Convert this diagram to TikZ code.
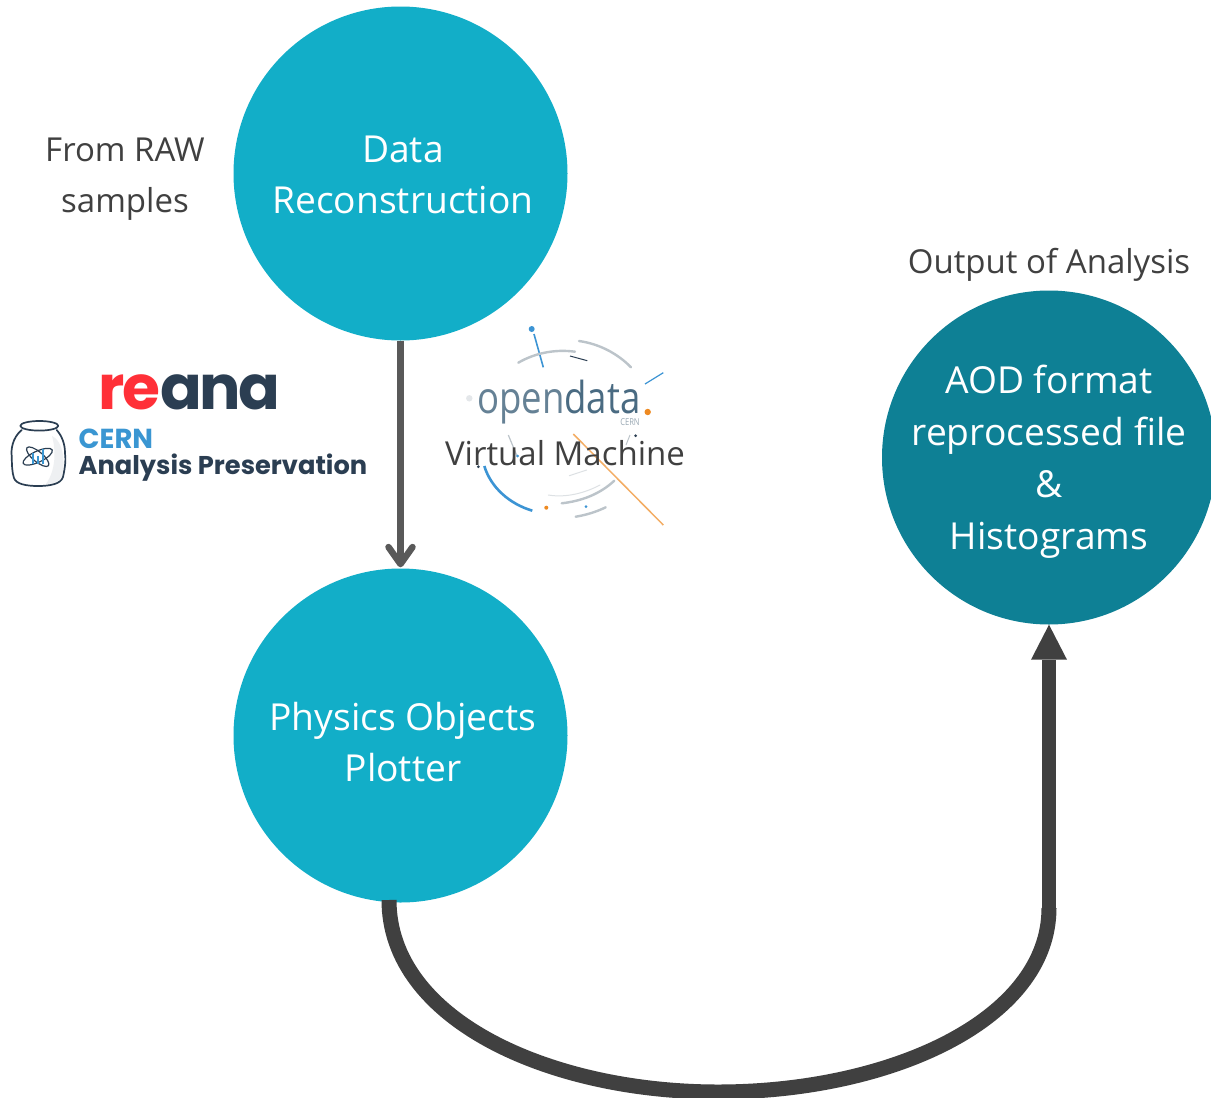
\documentclass[tikz,border=0pt]{standalone}
\usepackage{fontspec}
\setmainfont{Open Sans}
\newfontfamily\logofont{Poppins}
\usetikzlibrary{arrows.meta}
\definecolor{teal1}{HTML}{12AEC8}
\definecolor{teal2}{HTML}{0E8095}
\definecolor{inktext}{HTML}{404040}
\definecolor{arrowgrey}{HTML}{595959}
\definecolor{arrowdark}{HTML}{404040}
\definecolor{reanared}{HTML}{FF3038}
\definecolor{navy}{HTML}{2B3E52}
\definecolor{capblue}{HTML}{3A96D2}
\definecolor{odslate}{HTML}{4A6B82}
\definecolor{odgrey}{HTML}{BCC4CA}
\definecolor{odblue}{HTML}{3C94D4}
\definecolor{odorange}{HTML}{EE8A22}
\tikzset{
  x=1pt,y=-1pt,
  bubble/.style={circle,draw=none,inner sep=0pt,minimum size=334pt},
  inbubble/.style={text=white,align=center,inner sep=0pt,font=\fontsize{37.2}{51}\selectfont},
  sidetext/.style={text=inktext,align=center,inner sep=0pt,font=\fontsize{33}{51}\selectfont},
  odarc/.style={draw=odgrey,line width=2.4pt,line cap=round},
  odthin/.style={draw=odgrey!50,line width=1pt,line cap=round},
  jar/.style={draw=navy,line width=1.7pt,line cap=round,line join=round},
}
\begin{document}
\begin{tikzpicture}
\path[use as bounding box,clip] (0,0) rectangle (1211,1098);
\fill[white] (0,0) rectangle (1211,1098);

% open data logo
\fill[odblue] (531.7,329) circle (3);
\draw[odblue,line width=1.6pt] (534,334) -- (543.3,367.3);
\draw[odarc] (518.3,362.7) .. controls (535,353) and (555,349) .. (575,351.7);
\draw[navy,line width=1pt] (570,356) -- (587.3,360.7);
\draw[odarc] (579,341) .. controls (600,344) and (618,354) .. (631,367.3);
\draw[odblue,line width=1.2pt] (645,384) -- (663.3,372.7);
\fill[odorange] (647.7,412) circle (3.2);
\fill[odgrey!40] (469.3,398.3) circle (3.2);
\draw[odorange!70!white,line width=1.5pt] (573.3,434) -- (663.3,525);
\draw[odblue,line width=2.6pt] (484.3,466) .. controls (491,488) and (510,504) .. (532.3,510.7);
\fill[odorange] (546.3,507.7) circle (2);
\draw[odarc] (561.7,503.3) .. controls (582,501) and (600,494) .. (614.3,480.7);
\fill[odblue] (586,506.7) circle (1.5);
\draw[odarc] (575.7,516.7) .. controls (586,515) and (596,512) .. (605.7,507.3);
\draw[odthin] (548.3,495) .. controls (566,498) and (585,493) .. (600,485);
\draw[odgrey,line width=1.2pt] (508.3,435) -- (517.3,456.7);
\draw[odthin] (569.3,475.7) -- (586.7,470);
\draw[odgrey,line width=1pt] (630,435) -- (626,445);
\fill[navy] (635.7,435.7) circle (1.5);
\fill[navy] (478.3,466.7) circle (1.5);
\fill[odblue] (517.7,456) circle (1.5);
\node[inner sep=0pt,anchor=base west] (odword) at (477,413)
  {\scalebox{.83}[1]{\fontsize{44}{44}\selectfont\color{odslate!85}open\color{odslate}data}};
\node[inner sep=0pt,text=odgrey!70!odslate] (odcern) at (630,422.5)
  {\scalebox{.8}[1]{\fontsize{9.5}{10}\selectfont CERN}};

% circles
\node[bubble,fill=teal1] (recon) at (400.5,173.5) {};
\node[bubble,fill=teal1] (phys) at (400.5,735.5) {};
\node[bubble,fill=teal2] (aod) at (1049,457.5) {};

\node[inbubble] (recontxt) at (403,175) {Data\\Reconstruction};
\node[inbubble] (physt) at (403,742.5) {Physics Objects\\Plotter};
\node[inbubble,font=\fontsize{37.2}{52}\selectfont] (aodtxt) at (1049,461.5) {AOD format\\reprocessed file\\\&\\Histograms};

\node[sidetext] (raw) at (125,179.5) {From RAW\\samples};
\node[sidetext] (output) at (1049,265) {Output of Analysis};
\node[sidetext,font=\fontsize{33}{36}\selectfont] (vm) at (565,453) {Virtual Machine};

% connectors
\draw[arrowgrey,line width=6.5pt,-{Straight Barb[round,length=17pt,width=24pt,line width=6.5pt]},shorten >=1pt]
  (recon.south) -- (phys.north);
\coordinate (curvestart) at (389,900);
\coordinate (curvebottom) at (718,1092);
\coordinate (curveend) at (1049,908);
\draw[arrowdark,line width=15pt]
  (curvestart) .. controls (389,1020) and (550,1092) .. (curvebottom)
  .. controls (890,1092) and (1049,1020) .. (curveend);
\draw[arrowdark,line width=14pt,-{Triangle[length=35pt,width=36pt,line width=0pt]}]
  (curveend) -- (aod.south);

% reana logo
\node[inner sep=0pt,anchor=base west] (reana) at (98.5,409)
  {\fontsize{61.5}{61.5}\logofont\bfseries\addfontfeature{LetterSpace=-4}\color{reanared}re\color{navy}ana};

% CERN Analysis Preservation logo
\node[inner sep=0pt,anchor=base west,text=capblue] (capcern) at (78.5,448)
  {\fontsize{27.5}{27.5}\logofont\bfseries CERN};
\node[inner sep=0pt,anchor=base west,text=navy] (capname) at (78.5,474)
  {\fontsize{25.7}{25.7}\logofont\bfseries Analysis Preservation};
\fill[odgrey!25] (52,436) .. controls (62,440) and (66,460) .. (62,476) .. controls (60,482) and (52,484) .. (46,484) .. controls (56,470) and (56,450) .. (52,436) -- cycle;
\draw[jar] (21.7,430) .. controls (12,438) and (11,450) .. (11.7,456) .. controls (12,466) and (12,472) .. (14,478)
  .. controls (16,484) and (26,486) .. (38,486) .. controls (50,486) and (61,484) .. (63,477)
  .. controls (65,468) and (66,460) .. (65,453) .. controls (65,444) and (62,436) .. (56.7,430);
\draw[jar,fill=white] (39.3,425.8) ellipse (19 and 4.8);
\draw[jar,line width=1.2pt,rotate around={25:(37.7,456.7)}] (37.7,456.7) ellipse (16 and 5.5);
\draw[jar,line width=1.2pt,rotate around={-40:(37.7,456.7)}] (37.7,456.7) ellipse (14 and 5);
\draw[capblue,line width=1.6pt] (33,464) -- (33,453) (38,464) -- (38,456) (43,464) -- (43,449);
\end{tikzpicture}
\end{document}
